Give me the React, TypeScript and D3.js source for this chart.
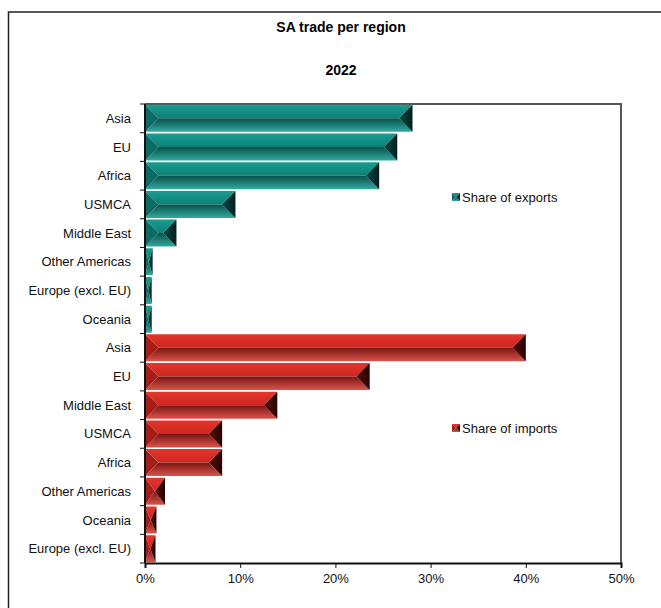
import React, { useRef, useEffect } from "react";
import * as d3 from "d3";

// values (share of SA trade, %)
const exportRegions = ["Asia", "EU", "Africa", "USMCA", "Middle East", "Other Americas", "Europe (excl. EU)", "Oceania"];
const exportShares = [28.1, 26.5, 24.6, 9.5, 3.3, 0.8, 0.7, 0.7];
const importRegions = ["Asia", "EU", "Middle East", "USMCA", "Africa", "Other Americas", "Oceania", "Europe (excl. EU)"];
const importShares = [40.0, 23.6, 13.9, 8.1, 8.1, 2.1, 1.2, 1.1];
const xTicks = [0, 10, 20, 30, 40, 50];
const seriesNames = ["Share of exports", "Share of imports"];

const W = 661;
const H = 608;

const palettes = {
  exp: { top: ["#1a9c91", "#0c8076"], bottom: ["#08504b", "#33aa9f"], right: ["#021f1d", "#0a4a45"], left: "#0b6a63" },
  imp: { top: ["#e2352c", "#cf2620"], bottom: ["#7a1411", "#d9544c"], right: ["#260403", "#5a0f0c"], left: "#a51d18" },
};

const App: React.FC = () => {
  const svgRef = useRef<SVGSVGElement>(null);

  useEffect(() => {
    if (!svgRef.current) return;
    const svg = d3.select(svgRef.current);
    svg.selectAll("*").remove();

    const margin = { top: 104, left: 145, right: 40, bottom: 45 };
    const plotW = 621 - margin.left;
    const plotH = 563 - margin.top;

    const rows = [
      ...exportRegions.map((r, i) => ({ key: "exp-" + i, label: r, value: exportShares[i], kind: "exp" as const })),
      ...importRegions.map((r, i) => ({ key: "imp-" + i, label: r, value: importShares[i], kind: "imp" as const })),
    ];

    const x = d3.scaleLinear().domain([0, 50]).range([0, plotW]);
    const y = d3.scaleBand<string>().domain(rows.map((r) => r.key)).range([0, plotH]).paddingInner(0.06).paddingOuter(0.03);

    // gradients
    const defs = svg.append("defs");
    (["exp", "imp"] as const).forEach((k) => {
      const p = palettes[k];
      (["top", "bottom", "right"] as const).forEach((f) => {
        const g = defs.append("linearGradient").attr("id", `${k}-${f}`)
          .attr("x1", 0).attr("y1", 0).attr("x2", f === "right" ? 1 : 0).attr("y2", f === "right" ? 0 : 1);
        g.append("stop").attr("offset", "0%").attr("stop-color", f === "right" ? p.right[1] : p[f][0]);
        g.append("stop").attr("offset", "100%").attr("stop-color", f === "right" ? p.right[0] : p[f][1]);
      });
    });

    // outer frame
    svg.append("rect").attr("x", 8.5).attr("y", 12).attr("width", 700).attr("height", 700)
      .attr("fill", "white").attr("stroke", "#222").attr("stroke-width", 1.5);

    svg.append("text").attr("x", 341).attr("y", 32).attr("text-anchor", "middle")
      .style("font", "bold 14px 'Liberation Sans', Arial, sans-serif").text("SA trade per region");
    svg.append("text").attr("x", 341).attr("y", 75).attr("text-anchor", "middle")
      .style("font", "bold 14px 'Liberation Sans', Arial, sans-serif").text("2022");

    const g = svg.append("g").attr("transform", `translate(${margin.left},${margin.top})`);

    // plot border (top/right)
    g.append("path").attr("d", `M0,0H${plotW}V${plotH}`).attr("fill", "none").attr("stroke", "#555").attr("stroke-width", 2);

    const bevel = (sel: d3.Selection<SVGGElement, unknown, null, undefined>, kind: "exp" | "imp", x0: number, x1: number, y0: number, y1: number) => {
      const h = y1 - y0;
      const w = x1 - x0;
      const ym = y0 + h / 2;
      const dx = Math.min(h / 2, w / 2);
      const pt = (a: number[][]) => a.map((q) => q.join(",")).join(" ");
      sel.append("polygon").attr("points", pt([[x0, y0], [x1, y0], [x1 - dx, ym], [x0 + dx, ym]])).attr("fill", `url(#${kind}-top)`);
      sel.append("polygon").attr("points", pt([[x0 + dx, ym], [x1 - dx, ym], [x1, y1], [x0, y1]])).attr("fill", `url(#${kind}-bottom)`);
      sel.append("polygon").attr("points", pt([[x0, y0], [x0 + dx, ym], [x0, y1]])).attr("fill", palettes[kind].left);
      sel.append("polygon").attr("points", pt([[x1, y0], [x1 - dx, ym], [x1, y1]])).attr("fill", `url(#${kind}-right)`);
    };

    const bars = g.append("g");
    rows.forEach((r) => {
      const y0 = y(r.key)!;
      bevel(bars, r.kind, x(0), x(r.value), y0, y0 + y.bandwidth());
    });

    // x axis
    const xAxis = g.append("g").attr("transform", `translate(0,${plotH})`)
      .call(d3.axisBottom(x).tickValues(xTicks).tickFormat((d) => `${d}%`).tickSize(5).tickPadding(6));
    xAxis.select(".domain").attr("stroke", "#111").attr("stroke-width", 2);
    xAxis.selectAll(".tick line").attr("stroke", "#111");
    xAxis.selectAll("text").style("font", "13px 'Liberation Sans', Arial, sans-serif").attr("fill", "#111");

    // y axis: ticks at band boundaries
    const yAxisG = g.append("g");
    const step = plotH / rows.length;
    d3.range(rows.length + 1).forEach((i) => {
      yAxisG.append("line").attr("x1", -5).attr("x2", 0).attr("y1", i * step).attr("y2", i * step).attr("stroke", "#111");
    });
    yAxisG.append("line").attr("x1", 0).attr("x2", 0).attr("y1", 0).attr("y2", plotH).attr("stroke", "#111").attr("stroke-width", 2);
    rows.forEach((r) => {
      yAxisG.append("text").attr("x", -14).attr("y", y(r.key)! + y.bandwidth() / 2).attr("dy", "0.35em")
        .attr("text-anchor", "end").style("font", "13px 'Liberation Sans', Arial, sans-serif").attr("fill", "#111").text(r.label);
    });

    // legend
    const legendY = [197, 428];
    (["exp", "imp"] as const).forEach((k, i) => {
      const lg = svg.append("g");
      bevel(lg, k, 452, 460, legendY[i] - 4, legendY[i] + 4);
      lg.append("text").attr("x", 462).attr("y", legendY[i]).attr("dy", "0.35em")
        .style("font", "13px 'Liberation Sans', Arial, sans-serif").attr("fill", "#111").text(seriesNames[i]);
    });
  }, []);

  return (
    <svg ref={svgRef} width={W} height={H} style={{ position: "absolute", left: 0, top: 0 }} />
  );
};

export default App;
